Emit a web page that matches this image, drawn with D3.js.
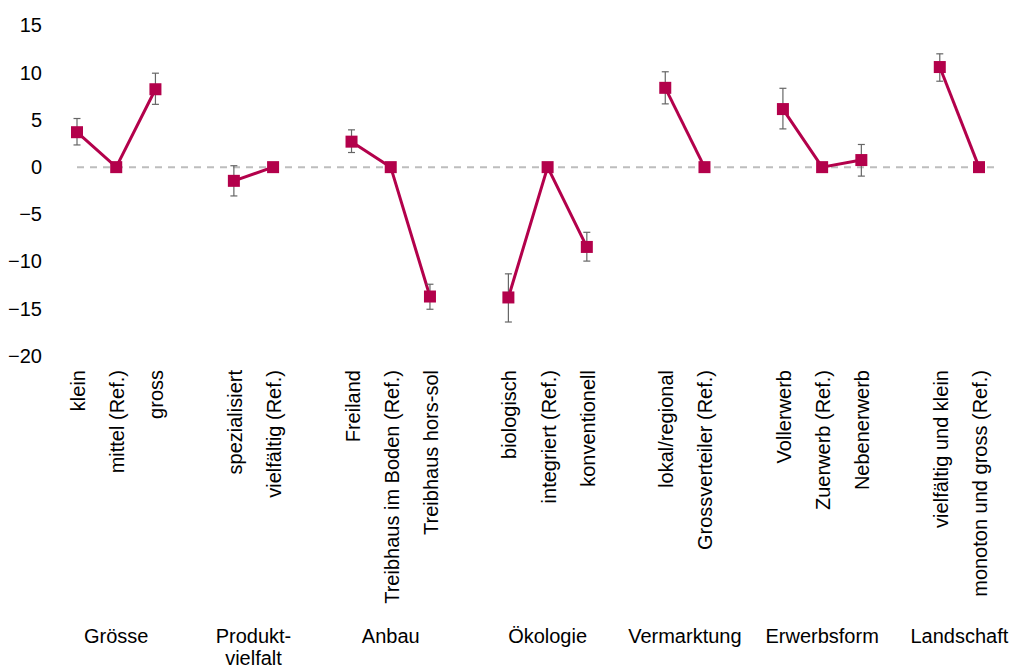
<!DOCTYPE html>
<html><head><meta charset="utf-8">
<script src="https://cdn.jsdelivr.net/npm/d3@7"></script>
<style>
body{margin:0;background:#fff;}
svg text{font-family:"Liberation Sans",Arial,sans-serif;fill:#000;}
</style></head>
<body><svg id="c" width="1014" height="666"></svg>
<script>
const groups = ["Grösse","Produkt-|vielfalt","Anbau","Ökologie","Vermarktung","Erwerbsform","Landschaft"];
const categories = ["klein","mittel (Ref.)","gross",
  "spezialisiert","vielfältig (Ref.)",
  "Freiland","Treibhaus im Boden (Ref.)","Treibhaus hors-sol",
  "biologisch","integriert (Ref.)","konventionell",
  "lokal/regional","Grossverteiler (Ref.)",
  "Vollerwerb","Zuerwerb (Ref.)","Nebenerwerb",
  "vielfältig und klein","monoton und gross (Ref.)"];
const groupIndex = [0,0,0, 1,1, 2,2,2, 3,3,3, 4,4, 5,5,5, 6,6];
const values = [3.7,0,8.25, -1.45,0, 2.7,0,-13.7, -13.8,0,-8.45, 8.4,0, 6.15,0,0.75, 10.6,0];
const lower  = [2.35,null,6.65, -3.05,null, 1.55,null,-15.05, -16.4,null,-9.95, 6.7,null, 4.05,null,-0.95, 9.1,null];
const upper  = [5.15,null,9.95, 0.15,null, 3.95,null,-12.4, -11.3,null,-6.9, 10.1,null, 8.35,null,2.4, 12.0,null];
const yTicks = [-20,-15,-10,-5,0,5,10,15];

const svg = d3.select("#c");
const color = "#b3014b";
const fs = 20;

// slots: categories plus one empty slot between groups
const slots = [];
categories.forEach((c,i)=>{
  if(i>0 && groupIndex[i]!==groupIndex[i-1]) slots.push("gap"+i);
  slots.push(c);
});
const x = d3.scalePoint().domain(slots).range([77,979]);
const y = d3.scaleLinear().domain([-20,15]).range([356,25.5]);

// y axis
const ax = svg.append("g").attr("transform","translate(42,0)")
  .call(d3.axisLeft(y).tickValues(yTicks).tickSize(0).tickPadding(0));
ax.select(".domain").remove();
ax.selectAll("text").style("font-size",fs+"px").attr("font-family",null);

// zero dashed line
svg.append("line").attr("x1",77).attr("x2",1000).attr("y1",y(0)).attr("y2",y(0))
  .attr("stroke","#bdbdbd").attr("stroke-width",2).attr("stroke-dasharray","7,6");

const pts = categories.map((c,i)=>({c,g:groupIndex[i],v:values[i],lo:lower[i],hi:upper[i]}));

// lines per group
const line = d3.line().x(d=>x(d.c)).y(d=>y(d.v));
groups.forEach((g,gi)=>{
  svg.append("path").datum(pts.filter(p=>p.g===gi))
    .attr("d",line).attr("fill","none").attr("stroke",color).attr("stroke-width",3);
});

// error bars
const eb = pts.filter(p=>p.lo!==null);
const ebg = svg.append("g").attr("stroke","#666").attr("stroke-width",1.2);
eb.forEach(p=>{
  const cx=x(p.c);
  ebg.append("line").attr("x1",cx).attr("x2",cx).attr("y1",y(p.lo)).attr("y2",y(p.hi));
  ebg.append("line").attr("x1",cx-3.5).attr("x2",cx+3.5).attr("y1",y(p.lo)).attr("y2",y(p.lo));
  ebg.append("line").attr("x1",cx-3.5).attr("x2",cx+3.5).attr("y1",y(p.hi)).attr("y2",y(p.hi));
});

// markers
svg.append("g").selectAll("rect").data(pts).join("rect")
  .attr("x",d=>x(d.c)-6).attr("y",d=>y(d.v)-6).attr("width",12).attr("height",12)
  .attr("fill",color);

// category labels
svg.append("g").selectAll("text").data(pts).join("text")
  .attr("transform",d=>`translate(${x(d.c)+1},370) rotate(-90)`)
  .attr("text-anchor","end").attr("dy","0.35em").style("font-size",fs+"px")
  .text(d=>d.c);

// group labels
groups.forEach((g,gi)=>{
  const members = pts.filter(p=>p.g===gi).map(p=>x(p.c));
  const cx = d3.mean(members);
  const t = svg.append("text").attr("x",cx).attr("y",643).attr("text-anchor","middle").style("font-size",fs+"px");
  g.split("|").forEach((s,k)=>{
    t.append("tspan").attr("x",cx).attr("dy",k===0?0:22).text(s);
  });
});
</script></body></html>
